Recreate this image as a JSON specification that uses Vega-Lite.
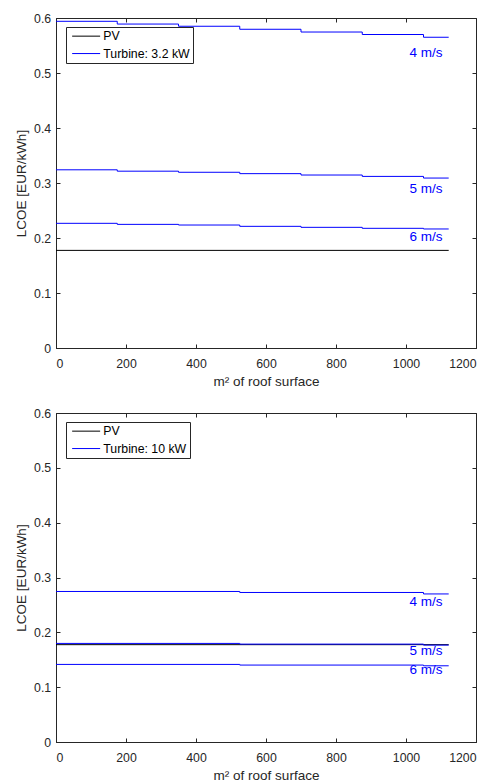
{
  "$schema": "https://vega.github.io/schema/vega-lite/v6.json",
  "padding": {"left": 14, "top": 11, "right": 5, "bottom": 0},
  "background": "white",
  "config": {
    "font": "Liberation Sans",
    "view": {"stroke": "#262626", "strokeWidth": 1},
    "axis": {"grid": false, "domainColor": "#262626", "tickColor": "#262626", "labelColor": "#262626", "titleColor": "#262626", "labelFont": "Liberation Sans", "titleFont": "Liberation Sans", "labelFontSize": 12.3, "titleFontSize": 13.5, "titleFontWeight": "normal", "tickSize": -4},
    "axisX": {"labelPadding": 13, "titlePadding": 5},
    "axisY": {"labelPadding": 9.3, "titlePadding": 5},
    "legend": {"labelFont": "Liberation Sans", "labelFontSize": 12.3, "labelColor": "#000000"}
  },
  "datasets": {
    "lines": [
      {"panel": "a", "series": "PV", "speed": "pv", "x": 0, "y": 0.1775},
      {"panel": "a", "series": "PV", "speed": "pv", "x": 1122, "y": 0.1775},
      {"panel": "a", "series": "Turbine: 3.2 kW", "speed": "4", "x": 0, "y": 0.594},
      {"panel": "a", "series": "Turbine: 3.2 kW", "speed": "4", "x": 175, "y": 0.589},
      {"panel": "a", "series": "Turbine: 3.2 kW", "speed": "4", "x": 350, "y": 0.585},
      {"panel": "a", "series": "Turbine: 3.2 kW", "speed": "4", "x": 525, "y": 0.5795},
      {"panel": "a", "series": "Turbine: 3.2 kW", "speed": "4", "x": 700, "y": 0.5745},
      {"panel": "a", "series": "Turbine: 3.2 kW", "speed": "4", "x": 875, "y": 0.570},
      {"panel": "a", "series": "Turbine: 3.2 kW", "speed": "4", "x": 1050, "y": 0.565},
      {"panel": "a", "series": "Turbine: 3.2 kW", "speed": "4", "x": 1122, "y": 0.565},
      {"panel": "a", "series": "Turbine: 3.2 kW", "speed": "5", "x": 0, "y": 0.324},
      {"panel": "a", "series": "Turbine: 3.2 kW", "speed": "5", "x": 175, "y": 0.3215},
      {"panel": "a", "series": "Turbine: 3.2 kW", "speed": "5", "x": 350, "y": 0.3195},
      {"panel": "a", "series": "Turbine: 3.2 kW", "speed": "5", "x": 525, "y": 0.317},
      {"panel": "a", "series": "Turbine: 3.2 kW", "speed": "5", "x": 700, "y": 0.3145},
      {"panel": "a", "series": "Turbine: 3.2 kW", "speed": "5", "x": 875, "y": 0.312},
      {"panel": "a", "series": "Turbine: 3.2 kW", "speed": "5", "x": 1050, "y": 0.309},
      {"panel": "a", "series": "Turbine: 3.2 kW", "speed": "5", "x": 1122, "y": 0.309},
      {"panel": "a", "series": "Turbine: 3.2 kW", "speed": "6", "x": 0, "y": 0.2267},
      {"panel": "a", "series": "Turbine: 3.2 kW", "speed": "6", "x": 175, "y": 0.2248},
      {"panel": "a", "series": "Turbine: 3.2 kW", "speed": "6", "x": 350, "y": 0.2236},
      {"panel": "a", "series": "Turbine: 3.2 kW", "speed": "6", "x": 525, "y": 0.2212},
      {"panel": "a", "series": "Turbine: 3.2 kW", "speed": "6", "x": 700, "y": 0.2194},
      {"panel": "a", "series": "Turbine: 3.2 kW", "speed": "6", "x": 875, "y": 0.2176},
      {"panel": "a", "series": "Turbine: 3.2 kW", "speed": "6", "x": 1050, "y": 0.2164},
      {"panel": "a", "series": "Turbine: 3.2 kW", "speed": "6", "x": 1122, "y": 0.2164},
      {"panel": "b", "series": "PV", "speed": "pv", "x": 0, "y": 0.1775},
      {"panel": "b", "series": "PV", "speed": "pv", "x": 1122, "y": 0.1775},
      {"panel": "b", "series": "Turbine: 10 kW", "speed": "4", "x": 0, "y": 0.2745},
      {"panel": "b", "series": "Turbine: 10 kW", "speed": "4", "x": 525, "y": 0.2727},
      {"panel": "b", "series": "Turbine: 10 kW", "speed": "4", "x": 1050, "y": 0.270},
      {"panel": "b", "series": "Turbine: 10 kW", "speed": "4", "x": 1122, "y": 0.270},
      {"panel": "b", "series": "Turbine: 10 kW", "speed": "5", "x": 0, "y": 0.1798},
      {"panel": "b", "series": "Turbine: 10 kW", "speed": "5", "x": 525, "y": 0.1785},
      {"panel": "b", "series": "Turbine: 10 kW", "speed": "5", "x": 1050, "y": 0.1767},
      {"panel": "b", "series": "Turbine: 10 kW", "speed": "5", "x": 1122, "y": 0.1767},
      {"panel": "b", "series": "Turbine: 10 kW", "speed": "6", "x": 0, "y": 0.1415},
      {"panel": "b", "series": "Turbine: 10 kW", "speed": "6", "x": 525, "y": 0.1403},
      {"panel": "b", "series": "Turbine: 10 kW", "speed": "6", "x": 1050, "y": 0.139},
      {"panel": "b", "series": "Turbine: 10 kW", "speed": "6", "x": 1122, "y": 0.139}
    ],
    "labels": [
      {"panel": "a", "x": 1057, "y": 0.536, "text": "4 m/s"},
      {"panel": "a", "x": 1057, "y": 0.290, "text": "5 m/s"},
      {"panel": "a", "x": 1057, "y": 0.2024, "text": "6 m/s"},
      {"panel": "b", "x": 1057, "y": 0.2545, "text": "4 m/s"},
      {"panel": "b", "x": 1057, "y": 0.1658, "text": "5 m/s"},
      {"panel": "b", "x": 1057, "y": 0.1306, "text": "6 m/s"}
    ]
  },
  "spacing": 17,
  "vconcat": [
    {
      "width": 420,
      "height": 330,
      "resolve": {"axis": {"x": "independent", "y": "independent"}},
      "layer": [
        {
          "data": {"name": "lines"},
          "transform": [{"filter": "datum.panel == 'a'"}],
          "mark": {"type": "line", "interpolate": "step-after", "strokeWidth": 1},
          "encoding": {
            "x": {"field": "x", "type": "quantitative", "scale": {"domain": [0, 1200], "nice": false}, "axis": {"orient": "bottom", "values": [0, 200, 400, 600, 800, 1000, 1200], "format": "d", "title": "m² of roof surface"}},
            "y": {"field": "y", "type": "quantitative", "scale": {"domain": [0, 0.6], "nice": false}, "axis": {"orient": "left", "values": [0, 0.1, 0.2, 0.3, 0.4, 0.5, 0.6], "format": "~g", "title": "LCOE [EUR/kWh]"}},
            "color": {"field": "series", "type": "nominal", "scale": {"domain": ["PV", "Turbine: 3.2 kW"], "range": ["#000000", "#0000ff"]}, "legend": {"title": null, "orient": "none", "legendX": 10, "legendY": 9, "strokeColor": "#262626", "fillColor": "#ffffff", "padding": 3, "symbolType": "M-0.6,0H5", "symbolSize": 100, "symbolStrokeWidth": 1, "labelOffset": 22, "rowPadding": 4.4}},
            "detail": {"field": "speed"}
          }
        },
        {
          "data": {"name": "labels"},
          "transform": [{"filter": "datum.panel == 'a'"}],
          "mark": {"type": "text", "color": "#0000ff", "fontSize": 13.5, "align": "center", "baseline": "middle"},
          "encoding": {
            "x": {"field": "x", "type": "quantitative", "axis": null},
            "y": {"field": "y", "type": "quantitative", "axis": null},
            "text": {"field": "text"}
          }
        },
        {
          "data": {"name": "labels"},
          "transform": [{"filter": "datum.panel == 'a'"}],
          "mark": {"type": "point", "opacity": 0},
          "encoding": {
            "x": {"field": "x", "type": "quantitative", "axis": {"orient": "top", "values": [0, 200, 400, 600, 800, 1000, 1200], "labels": false, "title": null, "domain": false}},
            "y": {"field": "y", "type": "quantitative", "axis": {"orient": "right", "values": [0, 0.1, 0.2, 0.3, 0.4, 0.5, 0.6], "labels": false, "title": null, "domain": false}}
          }
        }
      ]
    },
    {
      "width": 420,
      "height": 329,
      "resolve": {"axis": {"x": "independent", "y": "independent"}},
      "layer": [
        {
          "data": {"name": "lines"},
          "transform": [{"filter": "datum.panel == 'b'"}],
          "mark": {"type": "line", "interpolate": "step-after", "strokeWidth": 1},
          "encoding": {
            "x": {"field": "x", "type": "quantitative", "scale": {"domain": [0, 1200], "nice": false}, "axis": {"orient": "bottom", "values": [0, 200, 400, 600, 800, 1000, 1200], "format": "d", "title": "m² of roof surface"}},
            "y": {"field": "y", "type": "quantitative", "scale": {"domain": [0, 0.6], "nice": false}, "axis": {"orient": "left", "values": [0, 0.1, 0.2, 0.3, 0.4, 0.5, 0.6], "format": "~g", "title": "LCOE [EUR/kWh]"}},
            "color": {"field": "series", "type": "nominal", "scale": {"domain": ["PV", "Turbine: 10 kW"], "range": ["#000000", "#0000ff"]}, "legend": {"title": null, "orient": "none", "legendX": 10, "legendY": 9, "strokeColor": "#262626", "fillColor": "#ffffff", "padding": 3, "symbolType": "M-0.6,0H5", "symbolSize": 100, "symbolStrokeWidth": 1, "labelOffset": 22, "rowPadding": 4.4}},
            "detail": {"field": "speed"}
          }
        },
        {
          "data": {"name": "labels"},
          "transform": [{"filter": "datum.panel == 'b'"}],
          "mark": {"type": "text", "color": "#0000ff", "fontSize": 13.5, "align": "center", "baseline": "middle"},
          "encoding": {
            "x": {"field": "x", "type": "quantitative", "axis": null},
            "y": {"field": "y", "type": "quantitative", "axis": null},
            "text": {"field": "text"}
          }
        },
        {
          "data": {"name": "labels"},
          "transform": [{"filter": "datum.panel == 'b'"}],
          "mark": {"type": "point", "opacity": 0},
          "encoding": {
            "x": {"field": "x", "type": "quantitative", "axis": {"orient": "top", "values": [0, 200, 400, 600, 800, 1000, 1200], "labels": false, "title": null, "domain": false}},
            "y": {"field": "y", "type": "quantitative", "axis": {"orient": "right", "values": [0, 0.1, 0.2, 0.3, 0.4, 0.5, 0.6], "labels": false, "title": null, "domain": false}}
          }
        }
      ]
    }
  ],
  "resolve": {"scale": {"color": "independent"}}
}
